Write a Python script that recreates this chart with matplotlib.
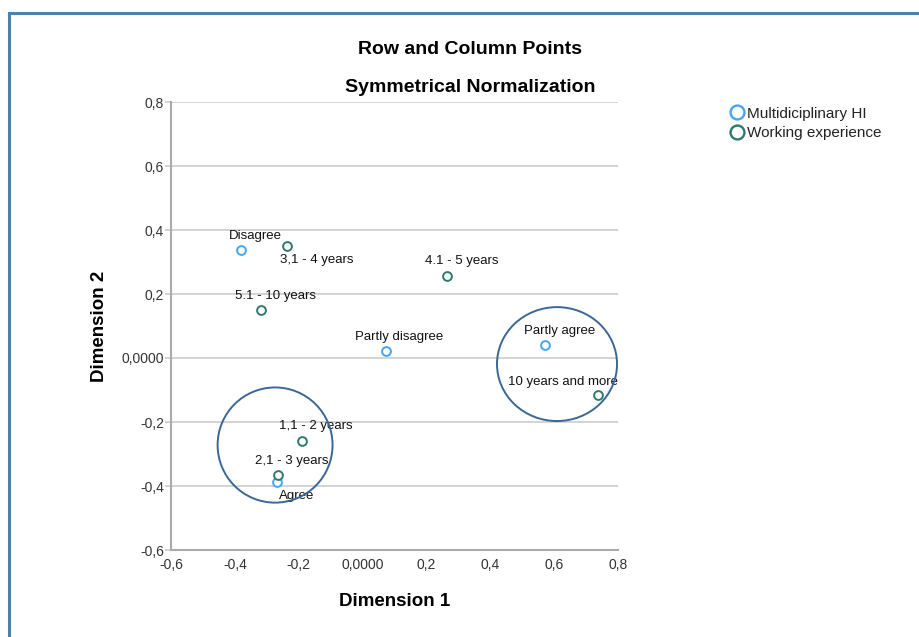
import numpy as np
import matplotlib.pyplot as plt
from matplotlib.patches import Ellipse
from matplotlib.lines import Line2D
from matplotlib.ticker import FuncFormatter

plt.rcParams['font.family'] = ['Liberation Sans', 'DejaVu Sans']

# row points: Multidiciplinary HI
row_labels = ['Disagree', 'Partly disagree', 'Partly agree', 'Agree']
row_x = [-0.381, 0.073, 0.571, -0.268]
row_y = [0.337, 0.022, 0.040, -0.388]

# column points: Working experience
col_labels = ['3,1 - 4 years', '4.1 - 5 years', '5.1 - 10 years',
              '10 years and more', '1,1 - 2 years', '2,1 - 3 years']
col_x = [-0.237, 0.264, -0.318, 0.737, -0.190, -0.265]
col_y = [0.350, 0.256, 0.150, -0.116, -0.260, -0.366]

# label offsets in pixels (dx, dy)
row_off = [(14, 14), (13, 14), (15, 14), (20, -14)]
col_off = [(30, -14), (15, 15), (14, 14), (-35, 13), (14, 15), (14, 14)]

blue = '#42a5f5'
green = '#2e7a6e'
ring = '#3a6796'

fig = plt.figure(figsize=(9.2, 6.37), dpi=100)
ax = fig.add_axes([171/920, 1-550/637, 447/920, 448/637])

ax.scatter(row_x, row_y, s=40, facecolors='white', edgecolors=blue, linewidths=1.4, zorder=3)
ax.scatter(col_x, col_y, s=40, facecolors='white', edgecolors=green, linewidths=1.4, zorder=3)

for lab, x, y, (dx, dy) in zip(row_labels, row_x, row_y, row_off):
    ax.annotate(lab, (x, y), xytext=(dx, dy), textcoords='offset pixels',
                ha='center', va='center', fontsize=9.5, color='#111111', zorder=4)
for lab, x, y, (dx, dy) in zip(col_labels, col_x, col_y, col_off):
    ax.annotate(lab, (x, y), xytext=(dx, dy), textcoords='offset pixels',
                ha='center', va='center', fontsize=9.5, color='#111111', zorder=4)

# highlighted groups
ax.add_patch(Ellipse((-0.274, -0.272), 0.36, 0.36, fill=False, edgecolor=ring, lw=1.4, zorder=5))
ax.add_patch(Ellipse((0.609, -0.019), 0.376, 0.356, fill=False, edgecolor=ring, lw=1.4, zorder=5))

ax.set_xlim(-0.6, 0.8)
ax.set_ylim(-0.6, 0.8)
ticks = np.arange(-0.6, 0.81, 0.2)
ax.set_xticks(ticks)
ax.set_yticks(ticks)

def fmt(v, pos):
    if abs(v) < 1e-9:
        return '0,0000'
    return ('%.1f' % v).replace('.', ',')

ax.xaxis.set_major_formatter(FuncFormatter(fmt))
ax.yaxis.set_major_formatter(FuncFormatter(fmt))
ax.tick_params(labelsize=10, labelcolor='#333333', color='#cccccc', length=4, width=1.2)
ax.tick_params(axis='y', pad=1)
ax.tick_params(axis='x', length=0, pad=6)
ax.grid(axis='y', color='#cccccc', lw=1.2)
ax.set_axisbelow(True)
for s in ['top', 'right']:
    ax.spines[s].set_visible(False)
for s in ['left', 'bottom']:
    ax.spines[s].set_color('#aaaaaa')
    ax.spines[s].set_linewidth(1.5)

ax.set_xlabel('Dimension 1', fontsize=13.5, fontweight='bold', labelpad=15)
ax.set_ylabel('Dimension 2', fontsize=13.5, fontweight='bold', labelpad=10)

fig.text(470/920, 1-50/637, 'Row and Column Points', ha='center', va='center',
         fontsize=14, fontweight='bold')
fig.text(470/920, 1-88/637, 'Symmetrical Normalization', ha='center', va='center',
         fontsize=14, fontweight='bold')

handles = [Line2D([], [], marker='o', ls='', markersize=10, markerfacecolor='white',
                  markeredgecolor=blue, markeredgewidth=1.7),
           Line2D([], [], marker='o', ls='', markersize=10, markerfacecolor='white',
                  markeredgecolor=green, markeredgewidth=1.7)]
fig.legend(handles, ['Multidiciplinary HI', 'Working experience'],
           loc='upper left', bbox_to_anchor=(720/920, 1-99/637), frameon=False,
           fontsize=11, handletextpad=0.1, labelspacing=0.35, borderpad=0,
           handlelength=1.2, labelcolor='#222222')

# frame lines on left and top
fig.add_artist(Line2D([8.5/920, 8.5/920], [0, 1-12.5/637], transform=fig.transFigure,
                      color='#4f7fae', lw=2.2))
fig.add_artist(Line2D([8.5/920, 1], [1-12.5/637, 1-12.5/637], transform=fig.transFigure,
                      color='#4f7fae', lw=2.2))

fig.savefig('out.png', dpi=100)
